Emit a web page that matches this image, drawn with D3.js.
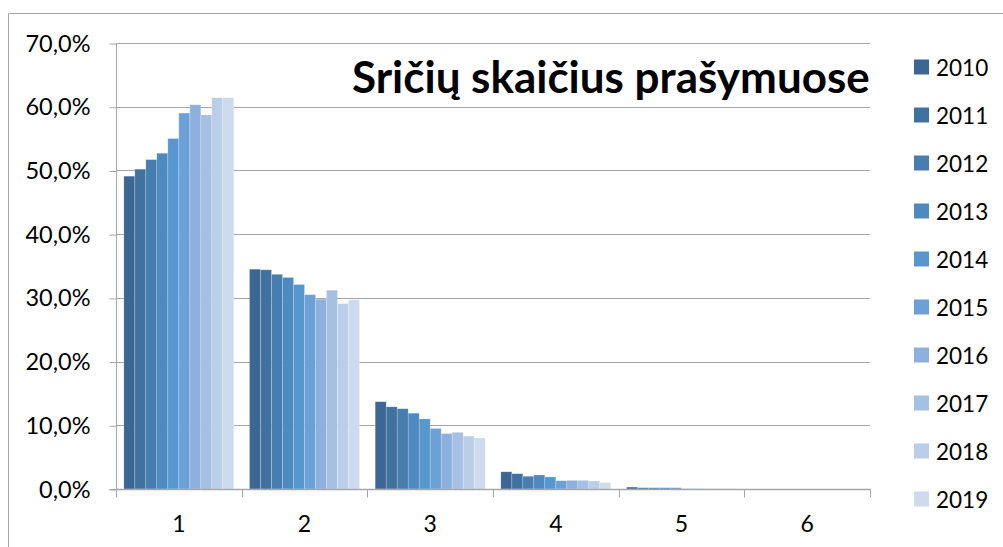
<!DOCTYPE html>
<html>
<head>
<meta charset="utf-8">
<script src="https://cdn.jsdelivr.net/npm/d3@7"></script>
<style>
body { margin: 0; background: #fff; }
text { font-family: Lato, "Open Sans", sans-serif; fill: #000; }
</style>
</head>
<body>
<script>
// categories (number of fields in a request)
const categories = ["1", "2", "3", "4", "5", "6"];
const years = ["2010", "2011", "2012", "2013", "2014", "2015", "2016", "2017", "2018", "2019"];

// share of requests, % , one array per year
const v2010 = [49.1, 34.5, 13.7, 2.7, 0.3, 0];
const v2011 = [50.2, 34.4, 12.9, 2.4, 0.2, 0];
const v2012 = [51.7, 33.7, 12.6, 2.0, 0.2, 0];
const v2013 = [52.7, 33.2, 11.9, 2.2, 0.2, 0];
const v2014 = [55.0, 32.1, 11.0, 1.9, 0.2, 0];
const v2015 = [59.0, 30.5, 9.5, 1.3, 0.05, 0];
const v2016 = [60.3, 29.8, 8.7, 1.35, 0.05, 0];
const v2017 = [58.7, 31.2, 8.9, 1.35, 0.03, 0];
const v2018 = [61.4, 29.1, 8.3, 1.25, 0.03, 0];
const v2019 = [61.4, 29.7, 8.0, 1.0, 0.02, 0];
const series = [v2010, v2011, v2012, v2013, v2014, v2015, v2016, v2017, v2018, v2019];

const yTicks = [0, 10, 20, 30, 40, 50, 60, 70];
const colors = ["#3c6694", "#41729f", "#477daf", "#4e89bf", "#5896ce",
                "#6ca1d8", "#8db1dc", "#a5c0e2", "#bacee8", "#cedbee"];
const title = "Sričių skaičius prašymuose";

///dimensions
const width = 1003, height = 547;
const mLeft = 116, mRight = 870, mTop = 43, mBottom = 489;

const svg = d3.select("body").append("svg")
  .attr("width", width)
  .attr("height", height);

// outer frame (only top and left visible)
svg.append("path")
  .attr("d", "M8.5,547 V13.5 H1003")
  .attr("fill", "none")
  .attr("stroke", "#a6a6a6");

const x0 = d3.scaleBand().domain(categories).range([mLeft, mRight]);
const inset = x0.bandwidth() * 0.0625;
const x1 = d3.scaleBand().domain(years).range([inset, x0.bandwidth() - inset]);
const y = d3.scaleLinear().domain([0, 70]).range([mBottom, mTop]);

const lt = d3.formatLocale({ decimal: ",", thousands: " ", grouping: [3], currency: ["", "€"] });
const fmt = d => lt.format(".1f")(d) + "%";

// gridlines
svg.append("g").selectAll("line")
  .data(yTicks.filter(d => d > 0))
  .join("line")
  .attr("x1", mLeft).attr("x2", mRight)
  .attr("y1", d => Math.round(y(d)) + 0.5)
  .attr("y2", d => Math.round(y(d)) + 0.5)
  .attr("stroke", "#a6a6a6");

// y axis
const yAxis = svg.append("g")
  .attr("transform", `translate(${mLeft + 0.5},0.5)`)
  .call(d3.axisLeft(y).tickValues(yTicks).tickFormat(fmt).tickSize(7).tickPadding(19));
yAxis.select(".domain").attr("stroke", "#a6a6a6").attr("d", `M-7,${y(0)}H0V${y(70)}`);
yAxis.selectAll(".tick line").attr("stroke", "#a6a6a6");
yAxis.selectAll(".tick text").attr("font-size", 23.5).attr("font-family", "Lato").attr("fill", "#000");

// bars
const groups = svg.append("g").selectAll("g")
  .data(categories)
  .join("g")
  .attr("transform", d => `translate(${x0(d)},0)`);

groups.selectAll("rect")
  .data((c, ci) => years.map((yr, si) => ({ yr, si, v: series[si][ci] })))
  .join("rect")
  .attr("x", d => x1(d.yr))
  .attr("width", x1.bandwidth())
  .attr("y", d => y(d.v))
  .attr("height", d => y(0) - y(d.v))
  .attr("fill", d => colors[d.si])
  .attr("stroke", "rgba(255,255,255,0.35)")
  .attr("stroke-width", 0.6);

// x axis
const xAxis = svg.append("g")
  .attr("transform", `translate(0,${Math.round(y(0)) + 0.5})`);
xAxis.append("line")
  .attr("x1", mLeft).attr("x2", mRight + 1)
  .attr("stroke", "#a6a6a6").attr("stroke-width", 1.3);
xAxis.selectAll(".sep")
  .data(categories.map(c => x0(c)).concat([mRight]))
  .join("line")
  .attr("class", "sep")
  .attr("x1", d => Math.round(d) + 0.5).attr("x2", d => Math.round(d) + 0.5)
  .attr("y1", 0).attr("y2", 8)
  .attr("stroke", "#a6a6a6");
xAxis.selectAll("text")
  .data(categories)
  .join("text")
  .attr("x", d => x0(d) + x0.bandwidth() / 2)
  .attr("y", 42)
  .attr("text-anchor", "middle")
  .attr("font-size", 23)
  .text(d => d);

// title, fitted to width
const t = svg.append("text")
  .attr("x", 352)
  .attr("y", 93)
  .attr("font-weight", "bold")
  .attr("font-size", 40)
  .text(title);
const tw = t.node().getComputedTextLength();
t.attr("font-size", 40 * 518 / tw);

// legend
const legend = svg.append("g").selectAll("g")
  .data(years)
  .join("g")
  .attr("transform", (d, i) => `translate(914,${67 + i * 48})`);
legend.append("rect")
  .attr("x", 0).attr("y", -7.5)
  .attr("width", 15).attr("height", 15)
  .attr("fill", (d, i) => colors[i]);
legend.append("text")
  .attr("x", 22).attr("y", 8.5)
  .attr("font-size", 22.5)
  .text(d => d);
</script>
</body>
</html>
